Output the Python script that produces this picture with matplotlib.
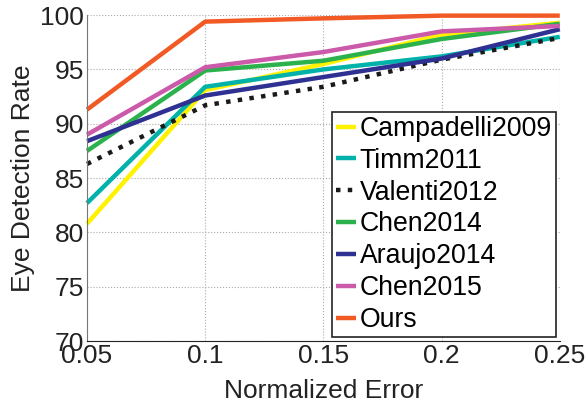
import matplotlib
matplotlib.use("Agg")
import matplotlib.pyplot as plt

plt.rcParams["font.family"] = ["Liberation Sans", "DejaVu Sans"]

# normalized error thresholds
x_vals = [0.05, 0.1, 0.15, 0.2, 0.25]
x_labels = ["0.05", "0.1", "0.15", "0.2", "0.25"]

# eye detection rate per method
campadelli2009 = [80.8, 93.1, 95.5, 98.2, 99.3]
timm2011 = [82.7, 93.4, 95.0, 96.2, 98.0]
valenti2012 = [86.3, 91.7, 93.4, 95.9, 97.9]
chen2014 = [87.5, 94.9, 95.8, 97.8, 99.2]
araujo2014 = [88.4, 92.6, 94.3, 96.0, 98.7]
chen2015 = [89.0, 95.2, 96.6, 98.5, 99.0]
ours = [91.3, 99.4, 99.7, 99.95, 99.95]

series = [
    ("Campadelli2009", campadelli2009, "#FFF200", "-"),
    ("Timm2011", timm2011, "#00B2A9", "-"),
    ("Valenti2012", valenti2012, "#1A1A1A", ":"),
    ("Chen2014", chen2014, "#2BB24C", "-"),
    ("Araujo2014", araujo2014, "#2E3192", "-"),
    ("Chen2015", chen2015, "#CC5AAA", "-"),
    ("Ours", ours, "#F15A24", "-"),
]

fig = plt.figure(figsize=(5.88, 4.08), dpi=100)
ax = fig.add_axes([0.148, 0.164, 0.804, 0.799])

for name, vals, color, ls in series:
    ax.plot(x_vals, vals, color=color, linestyle=ls, linewidth=3.2,
            label=name, clip_on=False, solid_capstyle="butt")

ax.set_xlim(0.05, 0.25)
ax.set_ylim(70, 100)
ax.set_xticks(x_vals)
ax.set_xticklabels(x_labels)
ax.set_yticks([70, 75, 80, 85, 90, 95, 100])
ax.tick_params(length=0, labelsize=19, colors="#222222", pad=2)
ax.grid(True, linestyle=":", color="#AAAAAA", linewidth=0.8)

for side in ["top", "right"]:
    ax.spines[side].set_visible(False)
ax.spines["left"].set_color("#777777")
ax.spines["bottom"].set_color("#222222")

ax.set_xlabel("Normalized Error", fontsize=19, color="#222222", labelpad=8)
ax.set_ylabel("Eye Detection Rate", fontsize=19, color="#222222", labelpad=4)

leg = ax.legend(loc="lower right", fontsize=19.2, handlelength=0.75,
                handletextpad=0.15, labelspacing=0.22, borderpad=0.15,
                borderaxespad=0.15, fancybox=False, framealpha=1)
leg.get_frame().set_edgecolor("#222222")
leg.get_frame().set_linewidth(1.2)

fig.savefig("out.png", dpi=100)
